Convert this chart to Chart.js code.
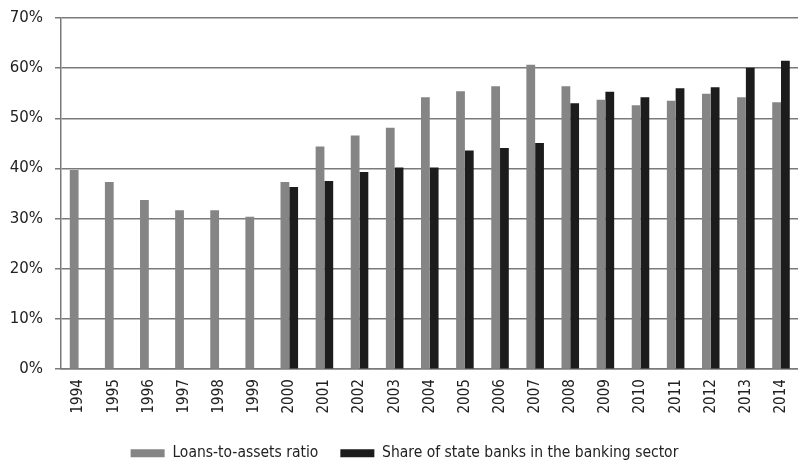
<!DOCTYPE html>
<html>
<head>
<meta charset="utf-8">
<title>Loans-to-assets ratio and state banks</title>
<script src="https://cdn.jsdelivr.net/npm/chart.js@4.4.1/dist/chart.umd.min.js"></script>
<style>
  html, body { margin: 0; padding: 0; background: #fff; overflow: hidden; }
  /* slightly larger than the window so the plot runs to the right and top edges */
  #wrap { width: 809px; height: 464px; margin-top: -3px; position: relative; }
</style>
</head>
<body>
<div id="wrap"><canvas id="chart"></canvas></div>
<script>
// years on the x axis
const years = ['1994', '1995', '1996', '1997', '1998', '1999', '2000', '2001', '2002', '2003', '2004',
               '2005', '2006', '2007', '2008', '2009', '2010', '2011', '2012', '2013', '2014'];

// loans-to-assets ratio, %
const loansToAssets = [39.7, 37.3, 33.7, 31.7, 31.7, 30.4, 37.3, 44.4, 46.6, 48.1, 54.2,
                       55.4, 56.4, 60.7, 56.4, 53.7, 52.6, 53.5, 54.9, 54.2, 53.2];

// share of state banks in the banking sector, % (no data before 2000)
const stateBankShare = [null, null, null, null, null, null, 36.3, 37.5, 39.3, 40.2, 40.2,
                        43.6, 44.1, 45.1, 53.0, 55.3, 54.2, 56.0, 56.2, 60.1, 61.5];

const yTicks = [0, 10, 20, 30, 40, 50, 60, 70];

const FONT = "'DejaVu Sans Condensed', 'DejaVu Sans', sans-serif";
const GRID = '#7a7a7a';

new Chart(document.getElementById('chart').getContext('2d'), {
    type: 'bar',
    data: {
        labels: years,
        datasets: [
            {
                label: 'Loans-to-assets ratio',
                data: loansToAssets,
                backgroundColor: '#858585',
                borderWidth: 0
            },
            {
                label: 'Share of state banks in the banking sector',
                data: stateBankShare,
                backgroundColor: '#1c1c1c',
                borderWidth: 0
            }
        ]
    },
    options: {
        responsive: true,
        maintainAspectRatio: false,
        animation: false,
        layout: { padding: { top: 4, right: 0, left: 0, bottom: -10 } },
        datasets: {
            bar: { categoryPercentage: 0.5, barPercentage: 1.0 }
        },
        plugins: {
            tooltip: { enabled: false },
            legend: {
                position: 'bottom',
                labels: {
                    boxWidth: 34,
                    boxHeight: 8,
                    padding: 22,
                    color: '#222',
                    font: { family: FONT, size: 15.5 }
                }
            }
        },
        scales: {
            x: {
                grid: { display: false, drawTicks: false },
                border: { display: true, color: GRID, width: 1.5 },
                ticks: {
                    color: '#222',
                    minRotation: 90,
                    maxRotation: 90,
                    padding: 10,
                    font: { family: FONT, size: 15 }
                }
            },
            y: {
                min: 0,
                max: 70,
                afterFit: s => { s.width = 61; },
                afterBuildTicks: s => { s.ticks = yTicks.map(v => ({ value: v })); },
                grid: { color: GRID, lineWidth: 1.5, tickLength: 6 },
                border: { display: true, color: GRID, width: 1.5 },
                ticks: {
                    color: '#222',
                    padding: 12,
                    font: { family: "'DejaVu Sans', sans-serif", size: 15 },
                    callback: v => v + '%'
                }
            }
        }
    }
});
</script>
</body>
</html>
